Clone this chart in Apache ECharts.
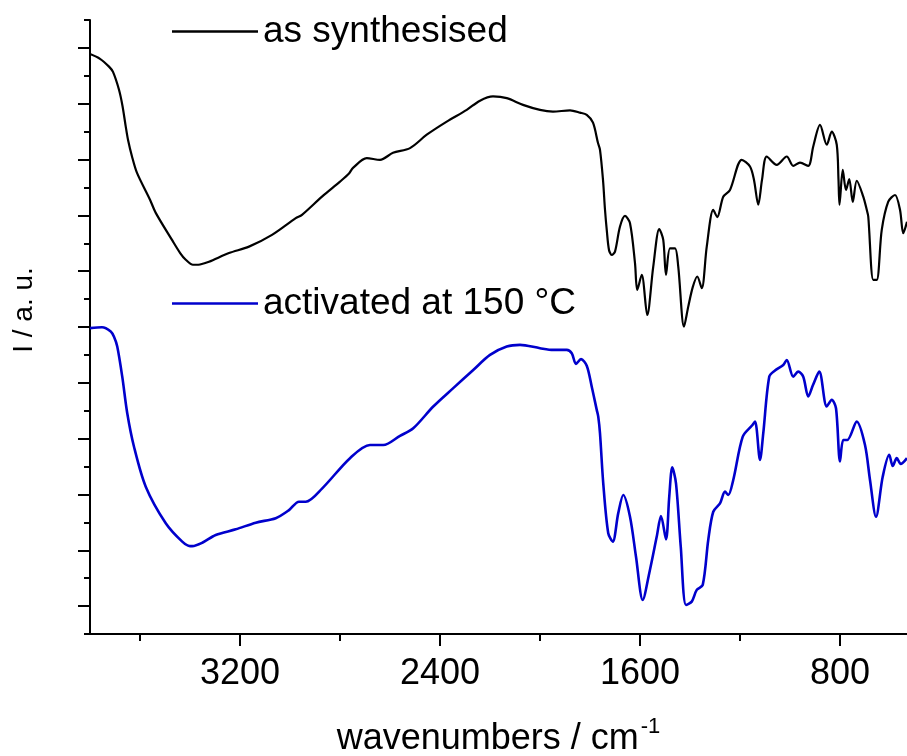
<!DOCTYPE html>
<html>
<head>
<meta charset="utf-8">
<script src="https://cdn.jsdelivr.net/npm/echarts@6/dist/echarts.min.js"></script>
<style>
html,body{margin:0;padding:0;background:#fff;}
#chart{width:907px;height:756px;}
</style>
</head>
<body>
<div id="chart"></div>
<script>
// ---- data (wavenumbers in cm^-1, intensity in arbitrary units) ----
const seriesNames = ['as synthesised', 'activated at 150 °C'];
const majorTicks = [3200, 2400, 1600, 800];
const minorTicks = [3600, 2800, 2000, 1200];

const synWn = [3800,3760,3724,3708,3684,3670,3657,3648,3632,3612,3560,3537,3472,3440,3417,3388,3377,3360,3324,3244,3164,3072,2977,2952,2872,2800,2764,2748,2693,2640,2588,2520,2453,2373,2293,2240,2188,2133,2068,2000,1948,1880,1840,1813,1788,1768,1760,1748,1740,1733,1724,1713,1700,1680,1660,1640,1620,1611,1593,1571,1547,1523,1507,1496,1480,1460,1447,1424,1407,1389,1371,1353,1333,1307,1291,1267,1240,1193,1160,1144,1127,1112,1093,1053,1013,987,960,927,907,880,853,833,813,806,802,789,776,763,749,733,707,693,687,667,653,633,607,580,560,547,532];
const synI  = [20.78,20.61,20.33,20.14,19.50,18.92,18.18,17.71,17.11,16.52,15.56,15.09,14.12,13.66,13.41,13.23,13.23,13.24,13.34,13.65,13.88,14.30,14.90,15.02,15.67,16.21,16.50,16.70,17.05,16.99,17.24,17.41,17.89,18.36,18.78,19.11,19.26,19.20,18.96,18.78,18.72,18.76,18.68,18.60,18.32,17.59,17.35,16.27,15.20,14.48,13.76,13.58,13.70,14.60,14.98,14.72,13.29,12.33,12.87,11.43,13.16,14.51,14.12,12.87,13.82,13.82,13.16,11.01,11.73,12.43,12.81,12.39,13.88,15.20,14.94,15.67,15.91,16.99,16.75,16.27,15.38,16.27,17.11,16.81,17.11,16.77,16.89,16.77,17.47,18.24,17.53,18.00,17.53,16.27,15.38,16.63,15.91,16.30,15.48,16.24,15.67,15.20,14.96,12.69,12.69,14.48,15.49,15.73,15.20,14.36,14.77];

const actWn = [3800,3752,3717,3704,3691,3671,3651,3624,3577,3497,3431,3400,3391,3351,3297,3217,3137,3057,3004,2964,2937,2871,2760,2680,2627,2560,2507,2427,2347,2267,2200,2133,2080,2000,1947,1893,1873,1856,1836,1813,1793,1773,1767,1760,1747,1727,1709,1687,1667,1640,1616,1589,1563,1533,1516,1496,1483,1471,1456,1437,1416,1393,1373,1349,1327,1307,1280,1260,1247,1227,1189,1153,1140,1120,1107,1083,1060,1027,1013,987,967,947,927,908,883,853,833,816,800,787,771,733,700,680,656,629,603,589,573,557,532];
const actI  = [10.96,10.99,10.84,10.65,10.30,9.22,7.91,6.71,5.28,3.97,3.31,3.15,3.15,3.27,3.55,3.75,3.99,4.15,4.44,4.74,4.74,5.22,6.30,6.77,6.77,7.10,7.37,8.15,8.81,9.46,10.00,10.30,10.36,10.24,10.18,10.18,10.06,9.68,9.85,9.61,8.86,8.03,7.79,7.19,5.40,3.61,3.31,4.33,4.98,4.20,2.77,1.22,2.18,3.49,4.23,3.39,4.92,5.97,5.40,3.13,1.04,1.16,1.58,1.76,3.37,4.38,4.68,5.10,4.98,5.52,7.07,7.46,7.61,6.24,7.19,9.22,9.44,9.64,9.82,9.22,9.40,9.22,8.51,8.92,9.40,8.15,8.39,8.09,6.18,6.95,6.95,7.61,6.77,5.52,4.20,5.64,6.42,6.02,6.30,6.09,6.30];

const xMin = 532, xMax = 3800;
const yMin = 0, yMax = 22;

function pairs(xs, ys){ return xs.map((x,i)=>[x, ys[i]]); }

const FONT = 'Liberation Sans, Arial, sans-serif';
const chart = echarts.init(document.getElementById('chart'), null, {renderer:'canvas'});
chart.setOption({
  animation:false,
  backgroundColor:'#ffffff',
  grid:{left:90, right:0, top:20, bottom:122, containLabel:false, outerBoundsMode:'none'},
  legend:[
    {data:[seriesNames[0]], left:172, top:13, padding:0, icon:'rect', itemWidth:86, itemHeight:2.5,
     textStyle:{fontSize:37, color:'#000', fontFamily:FONT}},
    {data:[seriesNames[1]], left:172, top:285, padding:0, icon:'rect', itemWidth:86, itemHeight:2.5,
     textStyle:{fontSize:37, color:'#000', fontFamily:FONT}}
  ],
  xAxis:[
    {type:'value', inverse:true, min:xMin, max:xMax, position:'bottom',
     axisLine:{show:true, lineStyle:{color:'#000', width:2}},
     axisTick:{show:true, customValues:majorTicks, length:12, lineStyle:{color:'#000', width:2}},
     axisLabel:{show:true, customValues:majorTicks, margin:22, fontSize:36, color:'#000', fontFamily:FONT,
       formatter:function(v){return String(v);}},
     splitLine:{show:false},
     name:'wavenumbers / cm{sup|-1}', nameLocation:'middle', nameGap:82,
     nameTextStyle:{fontSize:36, color:'#000', fontFamily:FONT,
       rich:{sup:{fontSize:22, verticalAlign:'top', padding:[0,0,24,2], color:'#000', fontFamily:FONT}}}
    },
    {type:'value', inverse:true, min:xMin, max:xMax, position:'bottom',
     axisLine:{show:false},
     axisTick:{show:true, customValues:minorTicks, length:7, lineStyle:{color:'#000', width:2}},
     axisLabel:{show:false}, splitLine:{show:false}
    }
  ],
  yAxis:{type:'value', min:yMin, max:yMax, interval:2,
     axisLine:{show:true, lineStyle:{color:'#000', width:2}},
     axisTick:{show:true, length:6, lineStyle:{color:'#000', width:2}},
     minorTick:{show:true, splitNumber:2, length:12, lineStyle:{color:'#000', width:2}},
     axisLabel:{show:false}, splitLine:{show:false}, minorSplitLine:{show:false},
     name:'I / a. u.', nameLocation:'middle', nameGap:52,
     nameTextStyle:{fontSize:28, color:'#000', fontFamily:FONT, padding:[0,0,0,34]}
  },
  series:[
    {name:seriesNames[0], type:'line', xAxisIndex:0, data:pairs(synWn, synI), symbol:'none',
     smooth:0.3,
     lineStyle:{color:'#000000', width:2.2}, itemStyle:{color:'#000000'}},
    {name:seriesNames[1], type:'line', xAxisIndex:0, data:pairs(actWn, actI), symbol:'none',
     smooth:0.3,
     lineStyle:{color:'#0000cc', width:2.6}, itemStyle:{color:'#0000cc'}}
  ]
});
</script>
</body>
</html>
